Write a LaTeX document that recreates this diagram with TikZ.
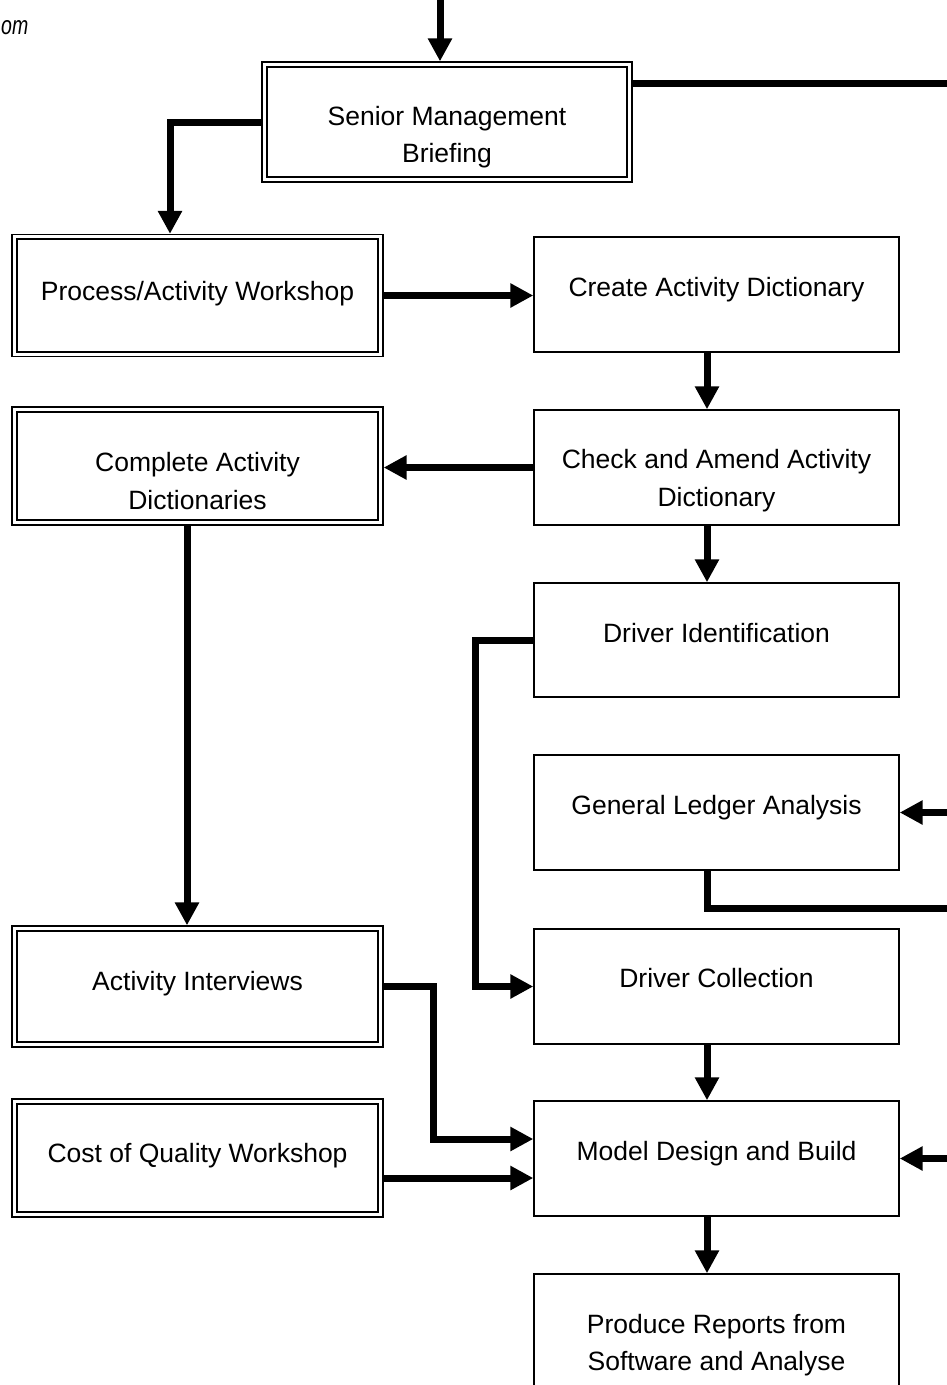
\documentclass[tikz,border=0pt]{standalone}
\usepackage{fontspec}
\setmainfont{Liberation Sans}
\usetikzlibrary{arrows.meta}
\newcommand\dblinner[1]{\draw[line width=2.2pt] ([xshift=5.5pt,yshift=-5.5pt]#1.north west) rectangle ([xshift=-5.5pt,yshift=5.5pt]#1.south east);}
\begin{document}
\begin{tikzpicture}[x=1pt,y=-1pt,
  sbox/.style={draw, line width=1.4pt, rectangle, inner sep=0pt, minimum width=365pt},
  dbox/.style={draw, line width=1.3pt, rectangle, inner sep=0pt, minimum width=371pt},
  lbl/.style={anchor=base, inner sep=0pt, font=\fontsize{26.5}{38}\selectfont},
  flow/.style={line width=7pt, line join=miter, -{Triangle[length=23pt,width=23pt]}},
  flowline/.style={line width=7pt, line join=miter}
]
\useasboundingbox (0,0) rectangle (947,1385);
\clip (0,0) rectangle (947,1385);
\fill[white] (0,0) rectangle (947,1385);

% caption fragment
\node[anchor=base west, inner sep=0pt, font=\itshape\fontsize{26}{30}\selectfont] (om) at (1,34) {\scalebox{0.75}[1]{om}};

% double-bordered boxes
\node[dbox, minimum width=370pt, minimum height=120pt] (senior) at (447,122) {};
\dblinner{senior}
\node[lbl] at (447,125) {Senior Management};
\node[lbl] at (447,162) {Briefing};

\node[dbox, minimum height=122pt] (process) at (197.5,295.5) {};
\dblinner{process}
\node[lbl] at (197.5,300) {Process/Activity Workshop};

\node[dbox, minimum height=118pt] (complete) at (197.5,466) {};
\dblinner{complete}
\node[lbl] at (197.5,471) {Complete Activity};
\node[lbl] at (197.5,509) {Dictionaries};

\node[dbox, minimum height=121pt] (actint) at (197.5,986.5) {};
\dblinner{actint}
\node[lbl] at (197.5,990) {Activity Interviews};

\node[dbox, minimum height=118pt] (cost) at (197.5,1158) {};
\dblinner{cost}
\node[lbl] at (197.5,1162.5) {Cost of Quality Workshop};

% single boxes
\node[sbox, minimum height=115pt] (create) at (716.5,294.5) {};
\node[lbl] at (716.5,296.5) {Create Activity Dictionary};

\node[sbox, minimum height=115pt] (check) at (716.5,467.5) {};
\node[lbl] at (716.5,468.5) {Check and Amend Activity};
\node[lbl] at (716.5,506.5) {Dictionary};

\node[sbox, minimum height=114pt] (drvid) at (716.5,640) {};
\node[lbl] at (716.5,642) {Driver Identification};

\node[sbox, minimum height=115pt] (gl) at (716.5,812.5) {};
\node[lbl] at (716.5,814) {General Ledger Analysis};

\node[sbox, minimum height=115pt] (drvcol) at (716.5,986.5) {};
\node[lbl] at (716.5,987) {Driver Collection};

\node[sbox, minimum height=115pt] (model) at (716.5,1158.5) {};
\node[lbl] at (716.5,1160) {Model Design and Build};

\node[sbox, minimum height=140pt] (produce) at (716.5,1344) {};
\node[lbl] at (716.5,1333) {Produce Reports from};
\node[lbl] at (716.5,1370.5) {Software and Analyse};

% free ends
\coordinate (topin) at (440,-5);
\coordinate (srout) at (955,83);
\coordinate (glin) at (955,812.5);
\coordinate (glout) at (955,908);
\coordinate (mdin) at (955,1158.5);

% connectors
\draw[flow] (topin) -- (topin |- senior.north);
\draw[flowline] (senior.east |- srout) -- (srout);
\draw[flow] (senior.west) -| ([xshift=-27.5pt]process.north);
\draw[flow] (process.east) -- (create.west |- process.east);
\draw[flow] ([xshift=-9.5pt]create.south) -- ([xshift=-9.5pt]check.north);
\draw[flow] (check.west) -- (complete.east |- check.west);
\draw[flow] ([xshift=-9.5pt]check.south) -- ([xshift=-9.5pt]drvid.north);
\draw[flow] ([xshift=-10.5pt]complete.south) -- ([xshift=-10.5pt]actint.north);
\draw[flow] (drvid.west) -- ++(-58,0) |- (drvcol.west);
\draw[flow] (glin) -- (gl.east);
\draw[flowline] ([xshift=-9.5pt]gl.south) |- (glout);
\draw[flow] ([xshift=-9.5pt]drvcol.south) -- ([xshift=-9.5pt]model.north);
\draw[flow] (actint.east) -- (433,986.5) |- ([yshift=19.5pt]model.west);
\draw[flow] ([yshift=-20pt]cost.east) -- (model.west |- 0,1178);
\draw[flow] (mdin) -- (model.east);
\draw[flow] ([xshift=-9.5pt]model.south) -- ([xshift=-9.5pt]produce.north);
\end{tikzpicture}
\end{document}
